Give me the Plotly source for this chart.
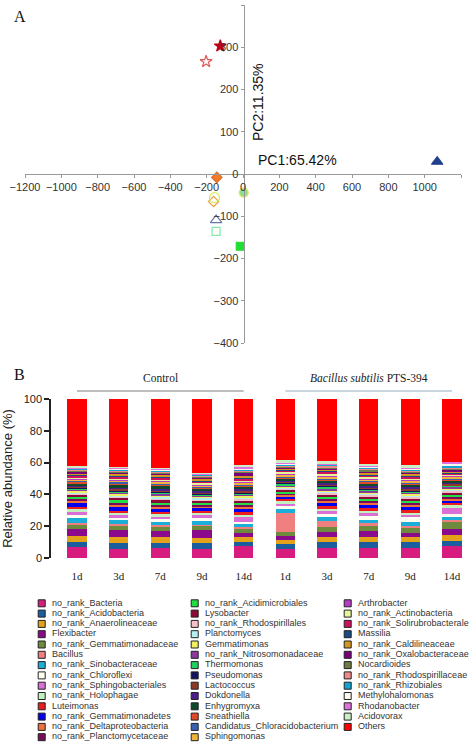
import plotly.graph_objects as go

SANS = "Arial, 'Liberation Sans', sans-serif"
SERIF = "'Times New Roman', 'Liberation Serif', serif"

# ---------------- Panel A: PCA ----------------
pca_samples = ["Control 1d", "Control 3d", "Control 7d", "Control 9d", "Control 14d",
               "PTS-394 1d", "PTS-394 3d", "PTS-394 7d", "PTS-394 9d", "PTS-394 14d"]
pc1 = [-125, -144, 4, 1069, -15, -203, -162, -157, -148, -148]
pc2 = [303, -8, -44, 29, -171, 266, -65, -56, -109, -136]
pc1_label = "PC1:65.42%"
pc2_label = "PC2:11.35%"
pca_ticks_x = list(range(-1200, 1201, 200))
pca_ticks_y = list(range(-400, 401, 100))

# ---------------- Panel B: relative abundance ----------------
days = ["1d", "3d", "7d", "9d", "14d"]
groups = ["Control", "<i>Bacillus subtilis</i> PTS-394"]
taxa = [
    "no_rank_Bacteria", "no_rank_Acidobacteria", "no_rank_Anaerolineaceae", "Flexibacter",
    "no_rank_Gemmatimonadaceae", "Bacillus", "no_rank_Sinobacteraceae", "no_rank_Chloroflexi",
    "no_rank_Sphingobacteriales", "no_rank_Holophagae", "Luteimonas", "no_rank_Gemmatimonadetes",
    "no_rank_Deltaproteobacteria", "no_rank_Planctomycetaceae",
    "no_rank_Acidimicrobiales", "Lysobacter", "no_rank_Rhodospirillales", "Planctomyces",
    "Gemmatimonas", "no_rank_Nitrosomonadaceae", "Thermomonas", "Pseudomonas", "Lactococcus",
    "Dokdonella", "Enhygromyxa", "Sneathiella", "Candidatus_Chloracidobacterium", "Sphingomonas",
    "Arthrobacter", "no_rank_Actinobacteria", "no_rank_Solirubrobacterale", "Massilia",
    "no_rank_Caldilineaceae", "no_rank_Oxalobacteraceae", "Nocardioides",
    "no_rank_Rhodospirillaceae", "no_rank_Rhizobiales", "Methylohalomonas", "Rhodanobacter",
    "Acidovorax", "Others",
]
# relative abundance (%) per sample, in the order of `taxa`
ctrl_1d = [6.9, 3.2, 3.8, 4.6, 2.7, 1.0, 3.2, 1.5, 2.5, 1.2, 1.4, 2.4, 1.3, 1.6, 1.2, 1.4, 0.9, 0.6, 0.8, 0.8,
           0.6, 0.5, 0.8, 0.7, 1.5, 0.7, 0.8, 0.9, 0.6, 0.8, 0.9, 0.6, 1.0, 0.7, 0.7, 0.6, 0.6, 0.5, 0.6, 0.7, 42.2]
ctrl_3d = [5.7, 3.6, 3.8, 4.2, 3.2, 0.8, 2.3, 1.5, 2.1, 1.0, 1.6, 2.2, 1.5, 1.3, 1.4, 1.6, 1.0, 0.7, 0.9, 0.9,
           0.6, 0.6, 0.9, 0.8, 2.0, 0.7, 0.9, 1.0, 0.6, 0.8, 1.0, 0.7, 1.1, 0.8, 0.7, 0.6, 0.7, 0.5, 0.6, 0.5, 42.6]
ctrl_7d = [6.1, 3.2, 3.8, 3.6, 3.2, 0.6, 2.1, 1.9, 1.7, 1.2, 1.6, 1.8, 1.4, 1.5, 1.2, 1.8, 1.0, 0.8, 0.9, 0.9,
           0.7, 0.6, 0.8, 0.9, 2.2, 0.7, 0.8, 1.1, 0.6, 0.9, 1.0, 0.7, 1.0, 0.9, 0.7, 0.6, 0.6, 0.5, 0.6, 0.6, 43.2]
ctrl_9d = [5.7, 3.6, 3.2, 5.3, 2.5, 0.6, 2.1, 2.1, 2.1, 1.4, 1.2, 1.6, 1.3, 1.2, 0.9, 1.3, 1.0, 0.8, 0.8, 0.8,
           0.6, 0.5, 0.8, 0.8, 1.4, 0.6, 0.7, 1.0, 0.6, 0.8, 0.9, 0.6, 0.9, 0.8, 0.6, 0.6, 0.5, 0.5, 0.5, 0.4, 46.4]
ctrl_14d = [7.6, 2.5, 3.0, 2.5, 2.5, 1.7, 2.1, 1.0, 3.2, 1.2, 1.5, 1.8, 1.4, 1.6, 1.2, 1.5, 1.2, 0.8, 0.9, 0.9,
            0.7, 0.6, 0.9, 0.8, 1.6, 0.7, 0.8, 1.0, 0.7, 0.9, 1.0, 0.7, 0.9, 2.4, 0.7, 0.8, 0.6, 0.7, 0.6, 1.5, 41.3]
pts_1d = [5.7, 3.2, 2.5, 2.7, 2.5, 12.0, 2.1, 1.7, 2.1, 1.2, 1.3, 1.6, 1.2, 1.0, 1.0, 1.2, 0.8, 0.7, 0.7, 0.7,
          1.2, 0.5, 0.7, 0.6, 1.2, 0.6, 0.7, 0.8, 0.5, 1.5, 0.8, 0.6, 0.8, 0.7, 0.6, 0.6, 0.5, 0.6, 0.5, 1.5, 38.6]
pts_3d = [6.1, 4.2, 2.7, 3.2, 3.0, 4.2, 2.7, 1.5, 1.8, 1.6, 1.5, 1.8, 1.4, 1.4, 1.3, 1.5, 1.0, 0.8, 0.9, 0.9,
          1.4, 0.6, 0.8, 0.8, 1.6, 0.7, 0.8, 1.0, 0.6, 1.4, 0.9, 0.7, 0.9, 0.8, 0.7, 0.7, 0.6, 0.6, 0.6, 1.1, 39.2]
pts_7d = [6.1, 4.2, 3.2, 3.2, 3.2, 2.1, 2.1, 2.1, 2.1, 1.3, 1.6, 2.0, 1.4, 1.4, 1.3, 1.5, 1.0, 0.8, 0.9, 0.9,
          0.8, 0.6, 0.8, 0.8, 1.7, 0.7, 0.8, 1.0, 0.6, 0.9, 1.0, 0.7, 1.0, 0.9, 0.7, 0.7, 0.6, 0.6, 0.6, 1.0, 41.1]
pts_9d = [6.1, 4.2, 2.7, 3.0, 2.7, 1.5, 2.7, 2.7, 1.5, 1.5, 1.6, 1.8, 1.4, 1.5, 1.2, 1.6, 1.0, 0.8, 0.9, 0.9,
          0.8, 0.6, 0.8, 0.9, 1.8, 0.7, 0.8, 1.0, 0.6, 1.0, 1.0, 0.7, 1.0, 0.9, 0.7, 0.7, 0.6, 0.6, 0.6, 1.1, 41.8]
pts_14d = [7.8, 3.0, 3.8, 3.6, 4.9, 1.0, 1.7, 1.9, 4.2, 1.2, 1.3, 1.4, 1.3, 1.3, 1.0, 1.4, 1.5, 0.8, 0.8, 0.8,
           0.7, 0.5, 0.8, 0.7, 1.4, 0.6, 0.7, 0.9, 0.6, 0.8, 0.9, 0.6, 0.8, 0.8, 0.6, 0.6, 1.4, 0.9, 1.5, 0.1, 39.4]
samples = [ctrl_1d, ctrl_3d, ctrl_7d, ctrl_9d, ctrl_14d, pts_1d, pts_3d, pts_7d, pts_9d, pts_14d]
y_label = "Relative abundance (%)"

# ---------------- styles ----------------
taxa_colors = [
    "#D81B7F", "#1B5E9E", "#E3A21A", "#8B0A8B", "#6E8B3D", "#F08080", "#1AAED8", "#FFFFF0",
    "#DA70D6", "#C1F0C1", "#EE1C1C", "#0000EE", "#F0703A", "#7A0A5A",
    "#22DD44", "#8B0A3A", "#F4BFC6", "#B5F0F0", "#F0F060", "#8A3A9A", "#22D060", "#14145E",
    "#8B3A2A", "#4B1E8A", "#0E4A2A", "#E04A2A", "#3A5FB0", "#F2B33D",
    "#B83AC8", "#E6F59A", "#D0105E", "#1A4A82", "#D4961E", "#7A007A", "#6E7B46", "#F08A8A",
    "#13A3D0", "#FFF8EC", "#E070E0", "#C8F0C4", "#FF0000",
]
pca_symbols = ["star", "diamond", "circle", "triangle-up", "square",
               "star-open", "diamond-open", "circle-open", "triangle-up-open", "square-open"]
pca_fill = ["#C00018", "#F07A28", "#8EE08E", "#1F3F8F", "#22DD33",
            "#E05A5A", "#E8A040", "#D8E860", "#6A7AA8", "#88E8A8"]
pca_line = ["#C00018", "#E06A20", "#E8E060", "#1F3F8F", "#22DD33",
            "#E05A5A", "#E8A040", "#D8E860", "#6A7AA8", "#88E8A8"]
pca_size = [9, 8, 9, 10, 8, 9, 8, 10, 10, 8]

PAGE_W, PAGE_H = 472, 744
W, H = PAGE_W, PAGE_H


def fx(p):  # page pixel x -> paper x
    return p / W


def fy(p):  # page pixel y -> paper y
    return 1 - p / H


fig = go.Figure()

# PCA points
for i, name in enumerate(pca_samples):
    fig.add_trace(go.Scatter(
        x=[pc1[i]], y=[pc2[i]], mode="markers", name=name, showlegend=False,
        marker=dict(symbol=pca_symbols[i], size=pca_size[i], color=pca_fill[i],
                    line=dict(color=pca_line[i], width=1.2)),
        xaxis="x", yaxis="y"))

# stacked bars
xpos = list(range(len(samples)))
for k, taxon in enumerate(taxa):
    fig.add_trace(go.Bar(
        x=xpos, y=[s[k] for s in samples], name=taxon, showlegend=False,
        marker=dict(color=taxa_colors[k], line=dict(width=0)), width=0.46,
        xaxis="x2", yaxis="y2"))

# custom 3-column legend (column-major)
nrows = 14
fig.add_trace(go.Scatter(
    x=[k // nrows for k in range(len(taxa))],
    y=[-(k % nrows) for k in range(len(taxa))],
    mode="markers+text", text=["\u00a0\u00a0" + t for t in taxa], textposition="middle right",
    textfont=dict(family=SANS, size=9, color="#333"),
    marker=dict(symbol="square", size=7, color=taxa_colors, line=dict(color="#222", width=1)),
    showlegend=False, hoverinfo="skip", xaxis="x3", yaxis="y3", cliponaxis=False))

tickfont = dict(family=SANS, size=11, color="#333")
bar_c0, bar_step = 77, 41.67        # page x of first bar centre, spacing
leg_x0, leg_dx = 41.7, 153          # legend column geometry
leg_y0, leg_dy = 603.3, 10.3        # legend row geometry
fig.update_layout(
    width=W, height=H, margin=dict(l=0, r=0, t=0, b=0, autoexpand=False),
    paper_bgcolor="white", plot_bgcolor="rgba(0,0,0,0)",
    barmode="stack", bargap=0, showlegend=False,
    xaxis=dict(domain=[fx(25), fx(461)], range=[-1200, 1200], anchor="free", position=fy(174),
               tickvals=pca_ticks_x, showline=True, linecolor="#999", linewidth=1,
               ticks="outside", ticklen=3, tickcolor="#999", tickfont=tickfont,
               showgrid=False, zeroline=False, automargin=False),
    yaxis=dict(domain=[fy(343), fy(5)], range=[-400, 400], anchor="free", position=fx(243.5),
               tickvals=pca_ticks_y, showline=True, linecolor="#999", linewidth=1,
               ticks="outside", ticklen=3, tickcolor="#999", tickfont=tickfont,
               showgrid=False, zeroline=False, automargin=False),
    xaxis2=dict(domain=[fx(51), 1.0],
                range=[(51 - bar_c0) / bar_step, (PAGE_W - bar_c0) / bar_step], anchor="y2",
                tickvals=xpos, ticktext=days * 2, ticks="outside", ticklen=8,
                tickcolor="rgba(0,0,0,0)", tickfont=dict(family=SERIF, size=11, color="#222"),
                showline=False, showgrid=False, zeroline=False, automargin=False),
    yaxis2=dict(domain=[fy(558), fy(399)], range=[0, 100], anchor="x2",
                tickvals=list(range(0, 101, 20)), showline=True, linecolor="#222", linewidth=1.5,
                ticks="outside", ticklen=5, tickwidth=1.5, tickcolor="#222",
                tickfont=dict(family=SANS, size=11, color="#222"),
                title=dict(text=y_label, font=dict(family=SANS, size=13, color="#222"), standoff=8),
                showgrid=False, zeroline=False, automargin=False),
    xaxis3=dict(domain=[0, 1], range=[(0 - leg_x0) / leg_dx, (PAGE_W - leg_x0) / leg_dx],
                visible=False, anchor="y3", automargin=False),
    yaxis3=dict(domain=[0, fy(595)],
                range=[-(PAGE_H - leg_y0) / leg_dy, -(595 - leg_y0) / leg_dy],
                visible=False, anchor="x3", automargin=False),
)

annotations = [
    dict(text="A", x=fx(12), y=fy(17), xref="paper", yref="paper", showarrow=False,
         xanchor="left", yanchor="middle", font=dict(family=SERIF, size=16, color="#111")),
    dict(text="B", x=fx(12), y=fy(374), xref="paper", yref="paper", showarrow=False,
         xanchor="left", yanchor="middle", font=dict(family=SERIF, size=16, color="#111")),
    dict(text=pc1_label, x=fx(297), y=fy(160), xref="paper", yref="paper", showarrow=False,
         xanchor="center", yanchor="middle", font=dict(family=SANS, size=14, color="#111")),
    dict(text=pc2_label, x=fx(258), y=fy(102), xref="paper", yref="paper", showarrow=False,
         xanchor="center", yanchor="middle", textangle=-90,
         font=dict(family=SANS, size=14, color="#111")),
]
shapes = []
line_colors = ["#A8A8A8", "#B8C8D4"]
for g, label in enumerate(groups):
    idx = [g * len(days) + d for d in range(len(days))]
    annotations.append(dict(text=label, x=sum(idx) / len(idx), y=fy(378), xref="x2", yref="paper",
                            xanchor="center", yanchor="middle", showarrow=False,
                            font=dict(family=SERIF, size=11.5, color="#222")))
    shapes.append(dict(type="line", xref="x2", yref="paper", x0=idx[0], x1=idx[-1],
                       y0=fy(391), y1=fy(391), line=dict(color=line_colors[g], width=1.5)))
fig.update_layout(annotations=annotations, shapes=shapes)

# remove the browser's default 8px page margin so the 472x744 figure fills the window
fig.write_html("out.html", config={"displayModeBar": False},
               post_script="document.body.style.margin='0';")
